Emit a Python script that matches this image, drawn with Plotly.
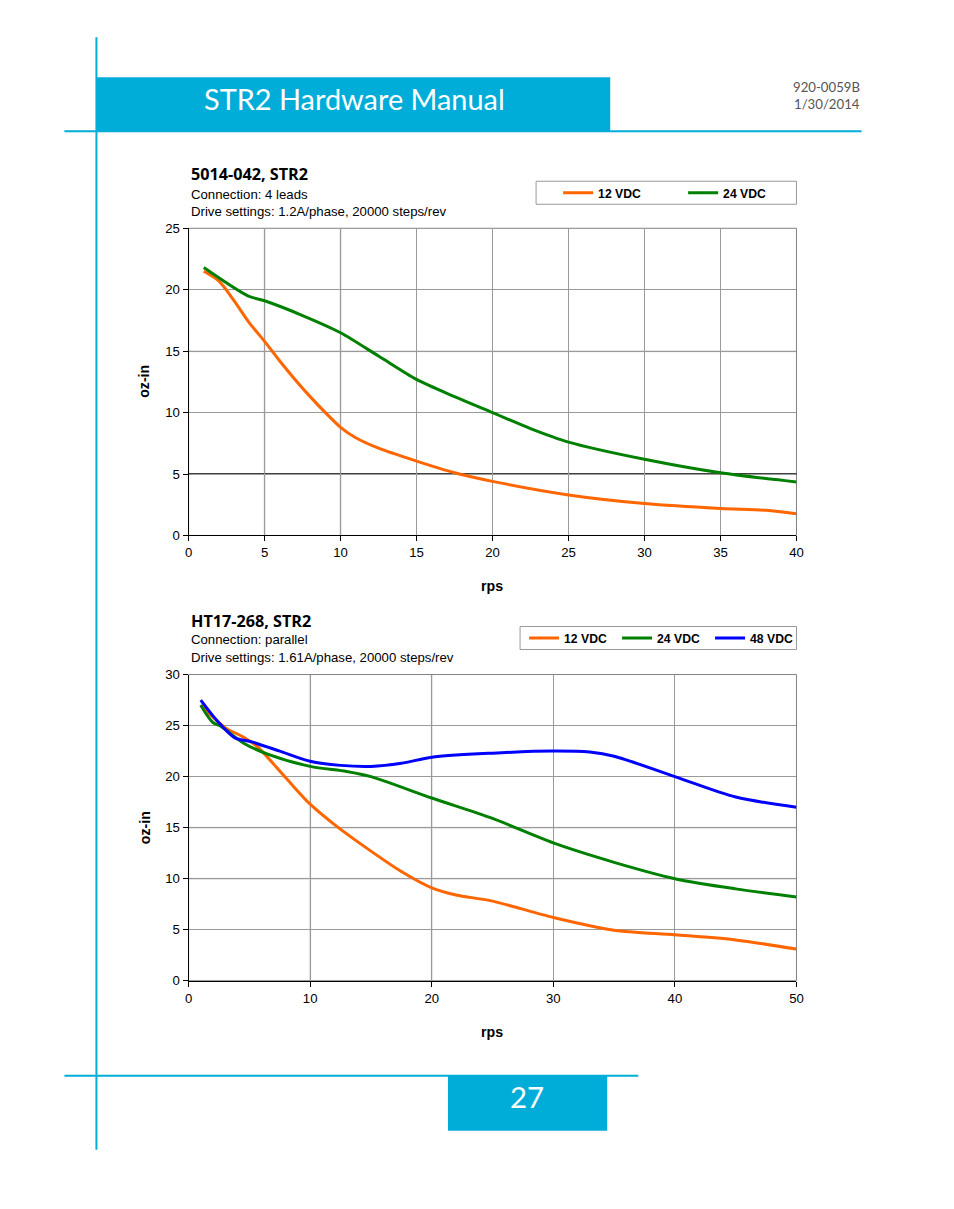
import plotly.graph_objects as go

W, H = 954, 1209
BLUE_BRAND = "#00ADD8"

# ---------------- data ----------------
# Chart 1: 5014-042, STR2
c1_x_12 = [1, 2, 3, 4, 5, 6, 7, 8, 9, 10, 11, 12.5, 15, 17.5, 20, 25, 30, 35, 38, 40]
c1_y_12 = [21.5, 20.7, 19.1, 17.3, 15.8, 14.2, 12.7, 11.3, 10.0, 8.8, 7.95, 7.1, 6.05, 5.1, 4.4, 3.3, 2.6, 2.2, 2.05, 1.77]
c1_x_24 = [1, 3.9, 5, 7.5, 10, 12.5, 15, 17.5, 20, 22.5, 25, 30, 35, 40]
c1_y_24 = [21.8, 19.5, 19.1, 17.9, 16.5, 14.6, 12.7, 11.3, 10.0, 8.7, 7.6, 6.2, 5.1, 4.35]

# Chart 2: HT17-268, STR2
c2_x_12 = [1, 3.0, 4.3, 5.6, 7.9, 10, 12, 15, 17.5, 20, 22, 25, 30, 35, 40, 45, 50]
c2_y_12 = [27.0, 24.8, 24.0, 23.0, 20.0, 17.3, 15.3, 12.7, 10.7, 9.1, 8.4, 7.8, 6.2, 4.95, 4.5, 4.0, 3.1]
c2_x_24 = [1, 2.0, 2.7, 4.5, 6.5, 10, 13, 15, 20, 25, 30, 35, 40, 45, 50]
c2_y_24 = [27.0, 25.3, 24.9, 23.3, 22.2, 21.0, 20.5, 20.0, 17.9, 15.9, 13.5, 11.6, 10.0, 9.0, 8.2]
c2_x_48 = [1, 2.4, 3.8, 5.2, 7.5, 10, 12.5, 15, 17.5, 20, 25, 30, 33, 35, 40, 45, 50]
c2_y_48 = [27.5, 25.4, 23.8, 23.4, 22.5, 21.5, 21.1, 21.0, 21.3, 21.9, 22.3, 22.5, 22.4, 22.0, 20.0, 18.0, 17.0]

series_names = ["12 VDC", "24 VDC", "48 VDC"]
series_colors = ["#FF6600", "#008000", "#0000FF"]

c1_xticks = [0, 5, 10, 15, 20, 25, 30, 35, 40]
c1_yticks = [0, 5, 10, 15, 20, 25]
c2_xticks = [0, 10, 20, 30, 40, 50]
c2_yticks = [0, 5, 10, 15, 20, 25, 30]

# gridlines that the source draws in a lighter grey
c1_light_x = [5, 10]
c1_light_y = [15]
c2_light_x = [10, 20]
c2_light_y = [10, 15]

c1_title = "5014-042, STR2"
c1_sub1 = "Connection: 4 leads"
c1_sub2 = "Drive settings: 1.2A/phase, 20000 steps/rev"
c2_title = "HT17-268, STR2"
c2_sub1 = "Connection: parallel"
c2_sub2 = "Drive settings: 1.61A/phase, 20000 steps/rev"

# ---------------- helpers ----------------
# the photographed page comes out very slightly shrunk about its centre;
# compensate so the positions line up with the page coordinates
S = 0.987
DX = 1.5

def px(x):
    return 0.5 + ((x + DX) / W - 0.5) / S

def py(y):
    return 0.5 + ((1 - y / H) - 0.5) / S

def fs(v):
    return round(v / S, 1)

ARIAL = "Liberation Sans, Arial, sans-serif"

fig = go.Figure()

def add_line(x, y, name, color, xa, ya, legend):
    fig.add_trace(go.Scatter(
        x=x, y=y, name=name, mode="lines",
        line=dict(color=color, width=3, shape="spline", smoothing=0.8),
        xaxis=xa, yaxis=ya, legend=legend, showlegend=True,
    ))

add_line(c1_x_12, c1_y_12, series_names[0], series_colors[0], "x", "y", "legend")
add_line(c1_x_24, c1_y_24, series_names[1], series_colors[1], "x", "y", "legend")
add_line(c2_x_12, c2_y_12, series_names[0], series_colors[0], "x2", "y2", "legend2")
add_line(c2_x_24, c2_y_24, series_names[1], series_colors[1], "x2", "y2", "legend2")
add_line(c2_x_48, c2_y_48, series_names[2], series_colors[2], "x2", "y2", "legend2")

ax_common = dict(
    showline=True, linecolor="black", linewidth=1,
    ticks="outside", ticklen=5, tickcolor="black",
    gridcolor="#9a9a9a", gridwidth=1, zeroline=False,
    tickfont=dict(family=ARIAL, size=fs(13), color="black"),
    fixedrange=True,
)

fig.update_layout(
    width=W, height=H,
    margin=dict(l=0, r=0, t=0, b=0),
    paper_bgcolor="white", plot_bgcolor="white",
    xaxis=dict(domain=[px(189), px(796)], range=[0, 40], tickvals=c1_xticks,
               anchor="y", **ax_common),
    yaxis=dict(domain=[py(536), py(229)], range=[0, 25], tickvals=c1_yticks,
               anchor="x", **ax_common),
    xaxis2=dict(domain=[px(189), px(796)], range=[0, 50], tickvals=c2_xticks,
                anchor="y2", **ax_common),
    yaxis2=dict(domain=[py(981), py(675)], range=[0, 30], tickvals=c2_yticks,
                anchor="x2", **ax_common),
    legend=dict(orientation="h", x=px(558), y=py(193.5), xanchor="left", yanchor="middle",
                bgcolor="rgba(0,0,0,0)", borderwidth=0,
                font=dict(family=ARIAL, size=fs(12), color="black", weight="bold"),
                entrywidth=80, entrywidthmode="pixels", itemwidth=30,
                tracegroupgap=0),
    legend2=dict(orientation="h", x=px(524), y=py(638.5), xanchor="left", yanchor="middle",
                 bgcolor="rgba(0,0,0,0)", borderwidth=0,
                 font=dict(family=ARIAL, size=fs(12), color="black", weight="bold"),
                 entrywidth=48, entrywidthmode="pixels", itemwidth=30,
                 tracegroupgap=0),
)

shapes = []
# page decoration
shapes.append(dict(type="line", xref="paper", yref="paper", x0=px(97), x1=px(97), y0=py(38), y1=py(1150),
                   line=dict(color=BLUE_BRAND, width=2)))
shapes.append(dict(type="rect", xref="paper", yref="paper", x0=px(97), x1=px(610), y0=py(132), y1=py(78),
                   fillcolor=BLUE_BRAND, line=dict(width=0)))
shapes.append(dict(type="line", xref="paper", yref="paper", x0=px(65), x1=px(861), y0=py(132), y1=py(132),
                   line=dict(color=BLUE_BRAND, width=2)))
shapes.append(dict(type="line", xref="paper", yref="paper", x0=px(65), x1=px(638), y0=py(1076), y1=py(1076),
                   line=dict(color=BLUE_BRAND, width=2)))
shapes.append(dict(type="rect", xref="paper", yref="paper", x0=px(448), x1=px(607), y0=py(1131), y1=py(1076),
                   fillcolor=BLUE_BRAND, line=dict(width=0)))
# legend boxes
shapes.append(dict(type="rect", xref="paper", yref="paper", x0=px(536), x1=px(796), y0=py(205), y1=py(182),
                   line=dict(color="#999999", width=1), fillcolor="rgba(0,0,0,0)"))
shapes.append(dict(type="rect", xref="paper", yref="paper", x0=px(520), x1=px(796), y0=py(650), y1=py(627),
                   line=dict(color="#999999", width=1), fillcolor="rgba(0,0,0,0)"))
# lighter gridlines
LIGHT = "#dcdcdc"
for xa, ya, lx, ly in (("x", "y", c1_light_x, c1_light_y), ("x2", "y2", c2_light_x, c2_light_y)):
    for v in lx:
        shapes.append(dict(type="line", xref=xa, yref=f"{ya} domain", x0=v, x1=v, y0=0, y1=1,
                           line=dict(color=LIGHT, width=2), layer="below"))
    for v in ly:
        shapes.append(dict(type="line", xref=f"{xa} domain", yref=ya, x0=0, x1=1, y0=v, y1=v,
                           line=dict(color=LIGHT, width=2), layer="below"))
# plot frames (top/right in gray)
for xa, ya in (("x", "y"), ("x2", "y2")):
    shapes.append(dict(type="rect", xref=f"{xa} domain", yref=f"{ya} domain", x0=0, x1=1, y0=0, y1=1,
                       line=dict(color="#808080", width=1), layer="below"))
# black 5 oz-in reference line on chart 1
shapes.append(dict(type="line", xref="x domain", yref="y", x0=0, x1=1, y0=5, y1=5,
                   line=dict(color="black", width=1.4), layer="below"))
fig.update_layout(shapes=shapes)

ann = []
ann.append(dict(text="STR2 Hardware Manual", x=px(355), y=py(99), xref="paper", yref="paper",
                showarrow=False, xanchor="center", yanchor="middle",
                font=dict(family="Lato, Open Sans, sans-serif", size=fs(28.5), color="white")))
ann.append(dict(text="920-0059B", x=px(861), y=py(88), xref="paper", yref="paper",
                showarrow=False, xanchor="right", yanchor="middle",
                font=dict(family="Lato, sans-serif", size=fs(13), color="#555555")))
ann.append(dict(text="1/30/2014", x=px(861), y=py(105), xref="paper", yref="paper",
                showarrow=False, xanchor="right", yanchor="middle",
                font=dict(family="Lato, sans-serif", size=fs(13), color="#555555")))
ann.append(dict(text="27", x=px(527), y=py(1097), xref="paper", yref="paper",
                showarrow=False, xanchor="center", yanchor="middle",
                font=dict(family="Lato, Open Sans, sans-serif", size=fs(29), color="white")))

def chart_text(title, sub1, sub2, ytitle, ysub1, ysub2, yoz, yrps):
    ann.append(dict(text=f"<b>{title}</b>", x=px(189), y=py(ytitle), xref="paper", yref="paper",
                    showarrow=False, xanchor="left", yanchor="middle",
                    font=dict(family="Open Sans, sans-serif", size=fs(16), color="black")))
    ann.append(dict(text=sub1, x=px(189), y=py(ysub1), xref="paper", yref="paper",
                    showarrow=False, xanchor="left", yanchor="middle",
                    font=dict(family=ARIAL, size=fs(13), color="black")))
    ann.append(dict(text=sub2, x=px(189), y=py(ysub2), xref="paper", yref="paper",
                    showarrow=False, xanchor="left", yanchor="middle",
                    font=dict(family=ARIAL, size=fs(13), color="black")))
    ann.append(dict(text="<b>oz-in</b>", x=px(145), y=py(yoz), xref="paper", yref="paper",
                    showarrow=False, xanchor="center", yanchor="middle", textangle=-90,
                    font=dict(family=ARIAL, size=fs(14), color="black")))
    ann.append(dict(text="<b>rps</b>", x=px(492), y=py(yrps), xref="paper", yref="paper",
                    showarrow=False, xanchor="center", yanchor="middle",
                    font=dict(family=ARIAL, size=fs(14), color="black")))

chart_text(c1_title, c1_sub1, c1_sub2, 175, 195, 212, 382, 587)
chart_text(c2_title, c2_sub1, c2_sub2, 621, 640, 658, 828, 1032)
fig.update_layout(annotations=ann)

page_css = (
    "var s='margin:0;padding:0;overflow:hidden;width:954px;height:1209px;';"
    "document.documentElement.style.cssText=s;document.body.style.cssText=s;"
)
fig.write_html("out.html", config={"displayModeBar": False}, post_script=page_css)
